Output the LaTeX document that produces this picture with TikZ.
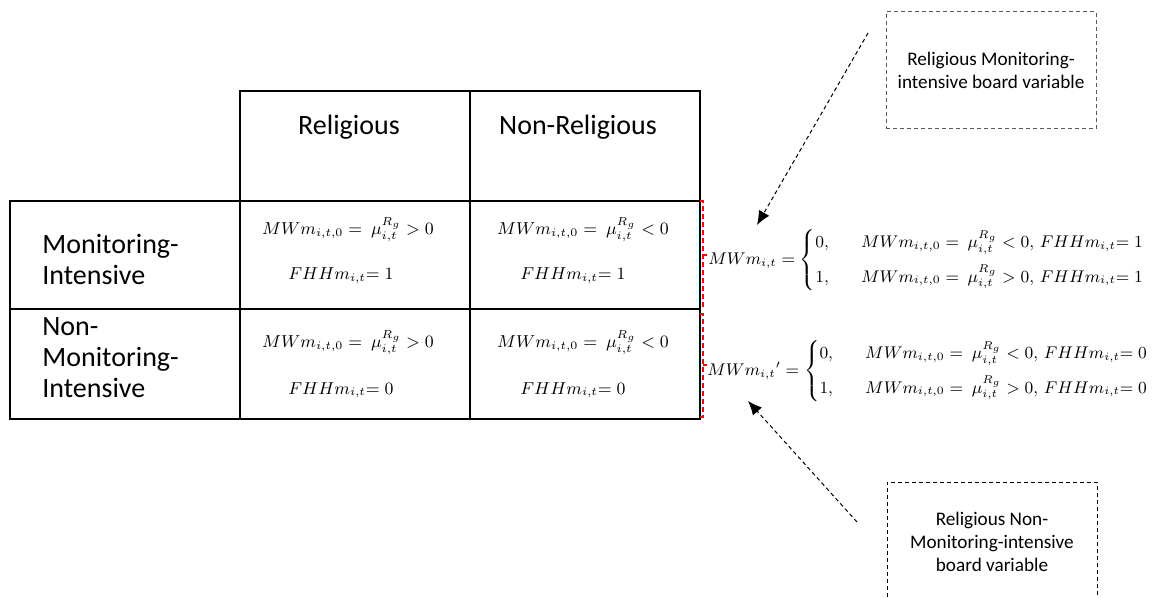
\RequirePackage{fix-cm}
\documentclass[tikz,border=0pt]{standalone}
\usepackage{amsmath,amssymb}
\usepackage[no-math]{fontspec}
\setmainfont{Carlito}
\usetikzlibrary{positioning,calc,arrows.meta}

\begin{document}
\begin{tikzpicture}[x=0.5pt,y=-0.5pt,
  grid/.style={line width=1.3pt},
  hdr/.style={font=\fontsize{14}{16}\selectfont,anchor=base,inner sep=0pt},
  rowlbl/.style={font=\fontsize{14}{15.5}\selectfont,align=left,anchor=west,inner sep=0pt},
  eqn/.style={font=\fontsize{9}{11}\selectfont,scale=0.96,anchor=base,inner sep=0pt},
  caseq/.style={font=\fontsize{9}{11}\selectfont,scale=0.94,anchor=west,inner sep=0pt},
  note/.style={draw,dash pattern=on 2pt off 1.5pt,line width=0.5pt,font=\fontsize{9.6}{11.5}\selectfont,align=center,minimum width=105pt},
  brk/.style={red,dash pattern=on 2.5pt off 1.5pt,line width=0.8pt},
  ptr/.style={dash pattern=on 2pt off 1.5pt,-{Latex[length=7pt,width=6pt]},line width=0.5pt}]
\useasboundingbox (0,0) rectangle (1155,598);
\clip (0,0) rectangle (1155,598);
\draw[grid] (240,91) rectangle (700,201);
\draw[grid] (470,91) -- (470,201);
\draw[grid] (10,201) rectangle (700,419);
\draw[grid] (10,309) -- (700,309);
\draw[grid] (240,201) -- (240,419);
\draw[grid] (470,201) -- (470,419);
\node[hdr] (rel) at (349,135) {Religious};
\node[hdr] (nonrel) at (578,135) {Non-Religious};
\node[rowlbl] (mon) at (42,259) {Monitoring-\\Intensive};
\node[rowlbl] (nonmon) at (42,358) {Non-\\Monitoring-\\Intensive};
\node[eqn] (ra) at (348,235) {$MWm_{i,t,0} =\ \mu^{R_g}_{i,t} > 0$};
\node[eqn] (rb) at (341,280) {$FHHm_{i,t}{=}\;1$};
\node[eqn] (na) at (583,235) {$MWm_{i,t,0} =\ \mu^{R_g}_{i,t} < 0$};
\node[eqn] (nb) at (573,280) {$FHHm_{i,t}{=}\;1$};
\node[eqn] (rc) at (348,348) {$MWm_{i,t,0} =\ \mu^{R_g}_{i,t} > 0$};
\node[eqn] (rd) at (341,394) {$FHHm_{i,t}{=}\;0$};
\node[eqn] (nc) at (583,348) {$MWm_{i,t,0} =\ \mu^{R_g}_{i,t} < 0$};
\node[eqn] (nd) at (573,394) {$FHHm_{i,t}{=}\;0$};
\draw[brk] (700,201) -- (703,201) -- (703,306) -- (700,306);
\draw[brk] (703,255) -- (707,255);
\draw[brk] (700,314) -- (703,314) -- (703,417) -- (700,417);
\draw[brk] (703,365) -- (707,365);
\node[caseq] (mw) at (708,260) {$MWm_{i,t} = \begin{cases} 0, & \hspace{0.9em} MWm_{i,t,0} =\ \mu^{R_g}_{i,t} < 0,\, FHHm_{i,t}{=}\;1\\[5pt] 1, & \hspace{0.9em} MWm_{i,t,0} =\ \mu^{R_g}_{i,t} > 0,\, FHHm_{i,t}{=}\;1 \end{cases}$};
\node[caseq] (mwp) at (707,371) {$MWm_{i,t}{}' = \begin{cases} 0, & \hspace{0.9em} MWm_{i,t,0} =\ \mu^{R_g}_{i,t} < 0,\, FHHm_{i,t}{=}\;0\\[5pt] 1, & \hspace{0.9em} MWm_{i,t,0} =\ \mu^{R_g}_{i,t} > 0,\, FHHm_{i,t}{=}\;0 \end{cases}$};
\node[note,draw=black!65,minimum height=58.5pt] (topnote) at (991,70.5) {Religious Monitoring-\\intensive board variable};
\node[note,minimum height=60pt] (botnote) at (992,542) {Religious Non-\\Monitoring-intensive\\board variable};
\coordinate (t1) at (868,33);
\coordinate (t2) at (757,225);
\coordinate (b1) at (857,522);
\coordinate (b2) at (748,401);
\draw[ptr] (t1) -- (t2);
\draw[ptr] (b1) -- (b2);
\end{tikzpicture}
\end{document}
